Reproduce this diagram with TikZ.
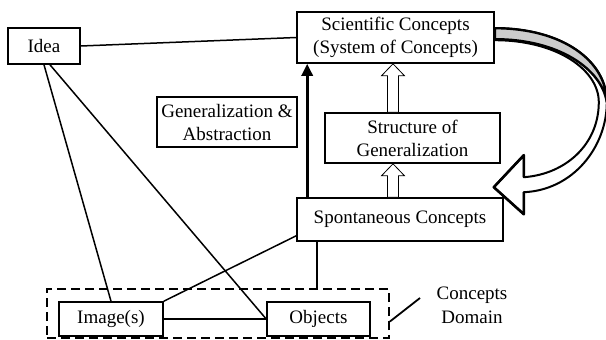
\documentclass[tikz,border=0pt]{standalone}
\usepackage{fontspec}
\setmainfont{Liberation Serif}
\usetikzlibrary{arrows.meta,calc}
% hollow block arrow pointing up from #1 to #2 (same x)
\newcommand\hollowarrow[2]{%
  \draw[hollow] let \p1=(#1), \p2=(#2) in
    (\x1-5.5pt,\y1) -- (\x1-5.5pt,\y2-12pt) -- (\x1-11.5pt,\y2-12pt) --
    (\x1,\y2) -- (\x1+11.5pt,\y2-12pt) -- (\x1+5.5pt,\y2-12pt) --
    (\x1+5.5pt,\y1) -- cycle;}
\begin{document}
\begin{tikzpicture}[x=1pt,y=-1pt,
  box/.style={draw, line width=1.6pt, align=center, inner sep=0pt,
    font=\fontsize{19}{23}\selectfont},
  plain/.style={align=center, inner sep=0pt, font=\fontsize{19}{24}\selectfont},
  link/.style={line width=1.5pt},
  hollow/.style={draw, fill=white, line width=0.8pt},
  bigarrow/.style={line width=2pt, line join=round},
]
\useasboundingbox (0,0) rectangle (606,340);

% concept boxes
\node[box, minimum width=197pt, minimum height=51pt] (sci) at (395.5,37.5)
  {Scientific Concepts\\(System of Concepts)};

% curved feedback arrow from scientific to spontaneous concepts
\begin{scope}[shift={(sci.north east)}]
  \draw[bigarrow, fill=white]
    (0,17) .. controls (68,17) and (112,50) .. (112,91)
    .. controls (112,136) and (78,179) .. (29,181)
    -- (29,203) -- (-1,176) -- (29,144) -- (29,166)
    .. controls (71,163) and (104,133) .. (104,91)
    .. controls (104,58) and (61,29) .. (0,29) -- cycle;
  \draw[bigarrow, fill=gray!40, line width=2.4pt]
    (0,17) .. controls (68,17) and (112,50) .. (112,91)
    .. controls (107,58) and (64,28) .. (0,28) -- cycle;
  % heavier outline on the arrow head
  \draw[bigarrow, line width=2.6pt]
    (29,181) -- (29,203) -- (-1,176) -- (29,144) -- (29,166);
\end{scope}

\node[box, minimum width=72pt, minimum height=36pt] (idea) at (44,46) {Idea};
\node[box, minimum width=140pt, minimum height=50pt] (genab) at (227,122)
  {Generalization \&\\Abstraction};
\node[box, minimum width=175pt, minimum height=50pt] (struct) at (412.5,138)
  {Structure of\\Generalization};
\node[box, minimum width=206pt, minimum height=43pt] (spont) at (400,219.5)
  {Spontaneous Concepts};
\node[draw, dashed, line width=1.9pt, dash pattern=on 9pt off 5pt,
  minimum width=342pt, minimum height=49pt, inner sep=0pt] (domain) at (218,313.5) {};
\node[box, minimum width=104pt, minimum height=34pt] (img) at (111,319) {Image(s)};
\node[box, minimum width=103pt, minimum height=34pt] (obj) at (318.5,319) {Objects};
\node[plain] (cdlabel) at (472,305) {Concepts\\Domain};
\coordinate (cdtick) at (420,298);

% connectors
\draw[link] (idea.east) -- (sci.west);
\draw[link] (idea.south) -- (img.north);
\draw[link] ([xshift=6pt]idea.south) -- (obj.west);
\draw[link] ([yshift=6pt]spont.south west) -- (img.north east);
\draw[link] ([xshift=21pt]spont.south west) coordinate (s1) -- (s1 |- domain.north);
\draw[link] (img.east) -- (obj.west);
\draw[link, line width=1.8pt] ([yshift=-8pt]domain.east) -- (cdtick);

% generalization arrow
\draw[line width=3pt, -{Triangle[length=12pt,width=11pt]}]
  ([xshift=11pt]spont.north west) coordinate (g1) -- (g1 |- sci.south);

% hollow arrows up the hierarchy
\coordinate (ax) at (393,0);
\hollowarrow{ax |- spont.north}{ax |- struct.south}
\hollowarrow{ax |- struct.north}{ax |- sci.south}
\end{tikzpicture}
\end{document}
